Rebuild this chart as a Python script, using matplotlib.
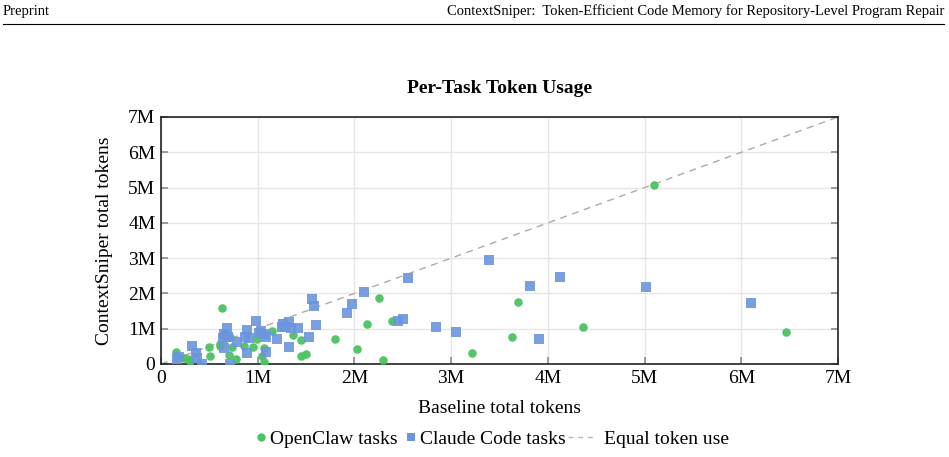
import matplotlib
matplotlib.use("Agg")
import matplotlib.pyplot as plt
from matplotlib.lines import Line2D

plt.rcParams['font.family'] = ['Liberation Serif', 'DejaVu Serif']
plt.rcParams['mathtext.fontset'] = 'stix'

# OpenClaw tasks (baseline tokens in M, ContextSniper tokens in M)
openclaw_x = [0.15, 0.24, 0.28, 0.30, 0.50, 0.51, 0.61, 0.63, 0.61, 0.71, 0.73, 0.70,
              0.78, 0.86, 0.95, 0.99, 1.06, 1.04, 1.06, 1.15, 1.37, 1.45, 1.45, 1.50,
              1.80, 2.03, 2.13, 2.25, 2.30, 2.39, 3.22, 3.63, 3.69, 4.36, 5.10, 6.46]
openclaw_y = [0.33, 0.18, 0.13, 0.08, 0.47, 0.24, 0.52, 1.59, 0.58, 0.77, 0.49, 0.25,
              0.15, 0.52, 0.47, 0.70, 0.44, 0.23, 0.07, 0.93, 0.82, 0.69, 0.23, 0.27,
              0.71, 0.42, 1.14, 1.87, 0.10, 1.22, 0.31, 0.77, 1.76, 1.06, 5.06, 0.91]

# Claude Code tasks
claude_x = [0.17, 0.19, 0.32, 0.36, 0.37, 0.42, 0.64, 0.65, 0.68, 0.69, 0.65, 0.71,
            0.79, 0.87, 0.89, 0.89, 0.91, 0.98, 1.01, 1.03, 1.07, 1.09, 1.09, 1.20,
            1.25, 1.26, 1.32, 1.34, 1.28, 1.42, 1.32, 1.53, 1.56, 1.58, 1.60, 1.92,
            1.98, 2.10, 2.45, 2.50, 2.55, 2.84, 3.05, 3.39, 3.82, 3.91, 4.13, 5.01, 6.10]
claude_y = [0.14, 0.21, 0.51, 0.30, 0.16, 0.00, 0.73, 0.84, 1.01, 0.77, 0.44, 0.00,
            0.63, 0.77, 0.96, 0.30, 0.73, 1.23, 0.87, 0.94, 0.84, 0.77, 0.33, 0.71,
            1.06, 1.12, 1.20, 1.03, 1.05, 1.01, 0.47, 0.76, 1.83, 1.65, 1.10, 1.44,
            1.71, 2.03, 1.21, 1.27, 2.44, 1.05, 0.90, 2.95, 2.20, 0.72, 2.46, 2.17, 1.73]

ticks = [0, 1, 2, 3, 4, 5, 6, 7]
tick_labels = ['0', '1M', '2M', '3M', '4M', '5M', '6M', '7M']

green = '#4cc262'
blue = '#6b95dc'

fig = plt.figure(figsize=(9.49, 4.57), dpi=100)
ax = fig.add_axes([161/949, 1-364/457, (838-161)/949, (364-117)/457])

ax.plot([0, 7], [0, 7], linestyle=(0, (5, 4)), color='#ababab', linewidth=1.0, zorder=2)
ax.scatter(openclaw_x, openclaw_y, s=38, marker='o', color=green, alpha=0.95,
           linewidths=0, zorder=3)
ax.scatter(claude_x, claude_y, s=46, marker='s', color=blue, alpha=0.9,
           linewidths=0, zorder=3)

ax.set_xlim(0, 7)
ax.set_ylim(0, 7)
ax.set_xticks(ticks)
ax.set_xticklabels(tick_labels)
ax.set_yticks(ticks)
ax.set_yticklabels(tick_labels)
ax.grid(True, color='#e6e6e6', linewidth=1.0, zorder=0)
ax.set_axisbelow(True)
ax.tick_params(direction='in', length=5, width=1.2, color='#8c8c8c',
               labelsize=14, top=False, right=True, pad=4)
for sp in ax.spines.values():
    sp.set_linewidth(1.2)
    sp.set_color('#222222')

ax.set_xlabel('Baseline total tokens', fontsize=14, labelpad=10)
ax.set_ylabel('ContextSniper total tokens', fontsize=14, labelpad=11)
ax.set_title('Per-Task Token Usage', fontsize=14, fontweight='bold', pad=17)

h_open = Line2D([], [], marker='o', linestyle='none', color=green, markersize=6,
                markeredgewidth=0)
h_claude = Line2D([], [], marker='s', linestyle='none', color=blue, markersize=6,
                  markeredgewidth=0)
h_equal = Line2D([], [], linestyle=(0, (3.5, 3.5)), color='#b5b5b5', linewidth=1.0)

leg1 = fig.legend([h_open, h_claude], ['OpenClaw tasks', 'Claude Code tasks'],
                  loc='center right', bbox_to_anchor=(566/949, 1-439/457), ncol=2,
                  frameon=False, fontsize=14, handlelength=0.6, handletextpad=0.2,
                  columnspacing=0.35, borderpad=0, borderaxespad=0)
leg2 = fig.legend([h_equal], ['Equal token use'],
                  loc='center left', bbox_to_anchor=(568/949, 1-439/457), ncol=1,
                  frameon=False, fontsize=14, handlelength=1.4, handletextpad=0.45,
                  borderpad=0, borderaxespad=0)

# page header
fig.text(3/949, 1-11/457, 'Preprint', fontsize=10.5, ha='left', va='center')
fig.text(944/949, 1-11/457,
         'ContextSniper:  Token-Efficient Code Memory for Repository-Level Program Repair',
         fontsize=10.5, ha='right', va='center')
fig.add_artist(Line2D([3/949, 944/949], [1-24/457, 1-24/457], color='black',
                      linewidth=0.8, transform=fig.transFigure))

fig.savefig('out.png', dpi=100)
